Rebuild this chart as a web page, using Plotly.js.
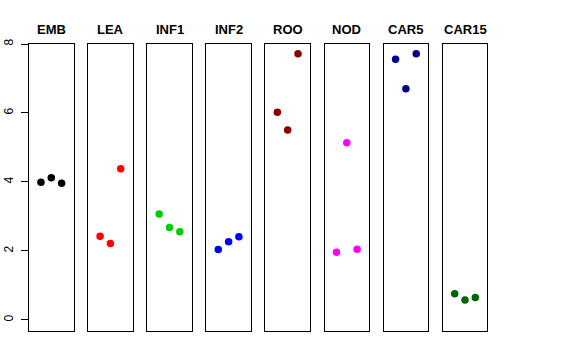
<!DOCTYPE html>
<html>
<head>
<meta charset="utf-8">
<script src="https://cdn.plot.ly/plotly-3.0.1.min.js"></script>
<style>html,body{margin:0;padding:0;background:#fff;}#chart{width:576px;height:360px;}</style>
</head>
<body>
<div id="chart"></div>
<script>
const categories = ["EMB", "LEA", "INF1", "INF2", "ROO", "NOD", "CAR5", "CAR15"];
const replicate = [1, 2, 3];
const EMB = [3.99, 4.12, 3.96];
const LEA = [2.43, 2.22, 4.38];
const INF1 = [3.07, 2.68, 2.56];
const INF2 = [2.04, 2.27, 2.41];
const ROO = [6.02, 5.51, 7.72];
const NOD = [1.96, 5.14, 2.05];
const CAR5 = [7.56, 6.70, 7.72];
const CAR15 = [0.76, 0.58, 0.65];
const seriesValues = [EMB, LEA, INF1, INF2, ROO, NOD, CAR5, CAR15];
const colors = ["#000000", "#FF0000", "#00CD00", "#0000FF", "#8B0000", "#FF00FF", "#00008B", "#006400"];
const yTicks = [0, 2, 4, 6, 8];

const W = 576, H = 360;
const left0 = 29, pitch = 59.1, pw = 44.6;
const panelTop = 44, panelBottom = 331;

const data = [];
const layout = {
  width: W, height: H,
  margin: {l: 0, r: 0, t: 0, b: 0, pad: 0},
  paper_bgcolor: "#fff", plot_bgcolor: "#fff",
  showlegend: false,
  font: {family: "Liberation Sans, Arial, sans-serif", color: "#000"},
  annotations: []
};

categories.forEach((cat, i) => {
  const n = i === 0 ? "" : String(i + 1);
  data.push({
    x: replicate, y: seriesValues[i],
    type: "scatter", mode: "markers",
    xaxis: "x" + n, yaxis: "y" + n,
    marker: {color: colors[i], size: 7.5, line: {width: 0}},
    hoverinfo: "skip"
  });
  const x0 = (left0 + pitch * i) / W, x1 = (left0 + pitch * i + pw) / W;
  layout["xaxis" + n] = {
    domain: [x0, x1], range: [-0.16, 4.16], anchor: "y" + n,
    showgrid: false, zeroline: false, showticklabels: false, ticks: "",
    showline: true, mirror: true, linecolor: "#000", linewidth: 1, fixedrange: true
  };
  const yax = {
    domain: [1 - panelBottom / H, 1 - panelTop / H], range: [-0.32, 8], anchor: "x" + n,
    showgrid: false, zeroline: false,
    showline: true, mirror: true, linecolor: "#000", linewidth: 1, fixedrange: true,
    automargin: false
  };
  if (i === 0) {
    Object.assign(yax, {
      tickvals: yTicks, ticktext: yTicks.map(String), ticks: "outside", ticklen: 7,
      tickwidth: 1, tickcolor: "#000", tickangle: -90, ticklabelstandoff: 3,
      tickfont: {size: 12, color: "#000", family: "Liberation Sans, Arial, sans-serif"}
    });
  } else {
    Object.assign(yax, {showticklabels: false, ticks: ""});
  }
  layout["yaxis" + n] = yax;
  layout.annotations.push({
    text: "<b>" + cat + "</b>", xref: "paper", yref: "paper",
    x: (x0 + x1) / 2, y: 1 - 29 / H, xanchor: "center", yanchor: "middle",
    showarrow: false, font: {size: 13, color: "#000", family: "Liberation Sans, Arial, sans-serif"}
  });
});

Plotly.newPlot("chart", data, layout, {staticPlot: true, displayModeBar: false});
</script>
</body>
</html>
